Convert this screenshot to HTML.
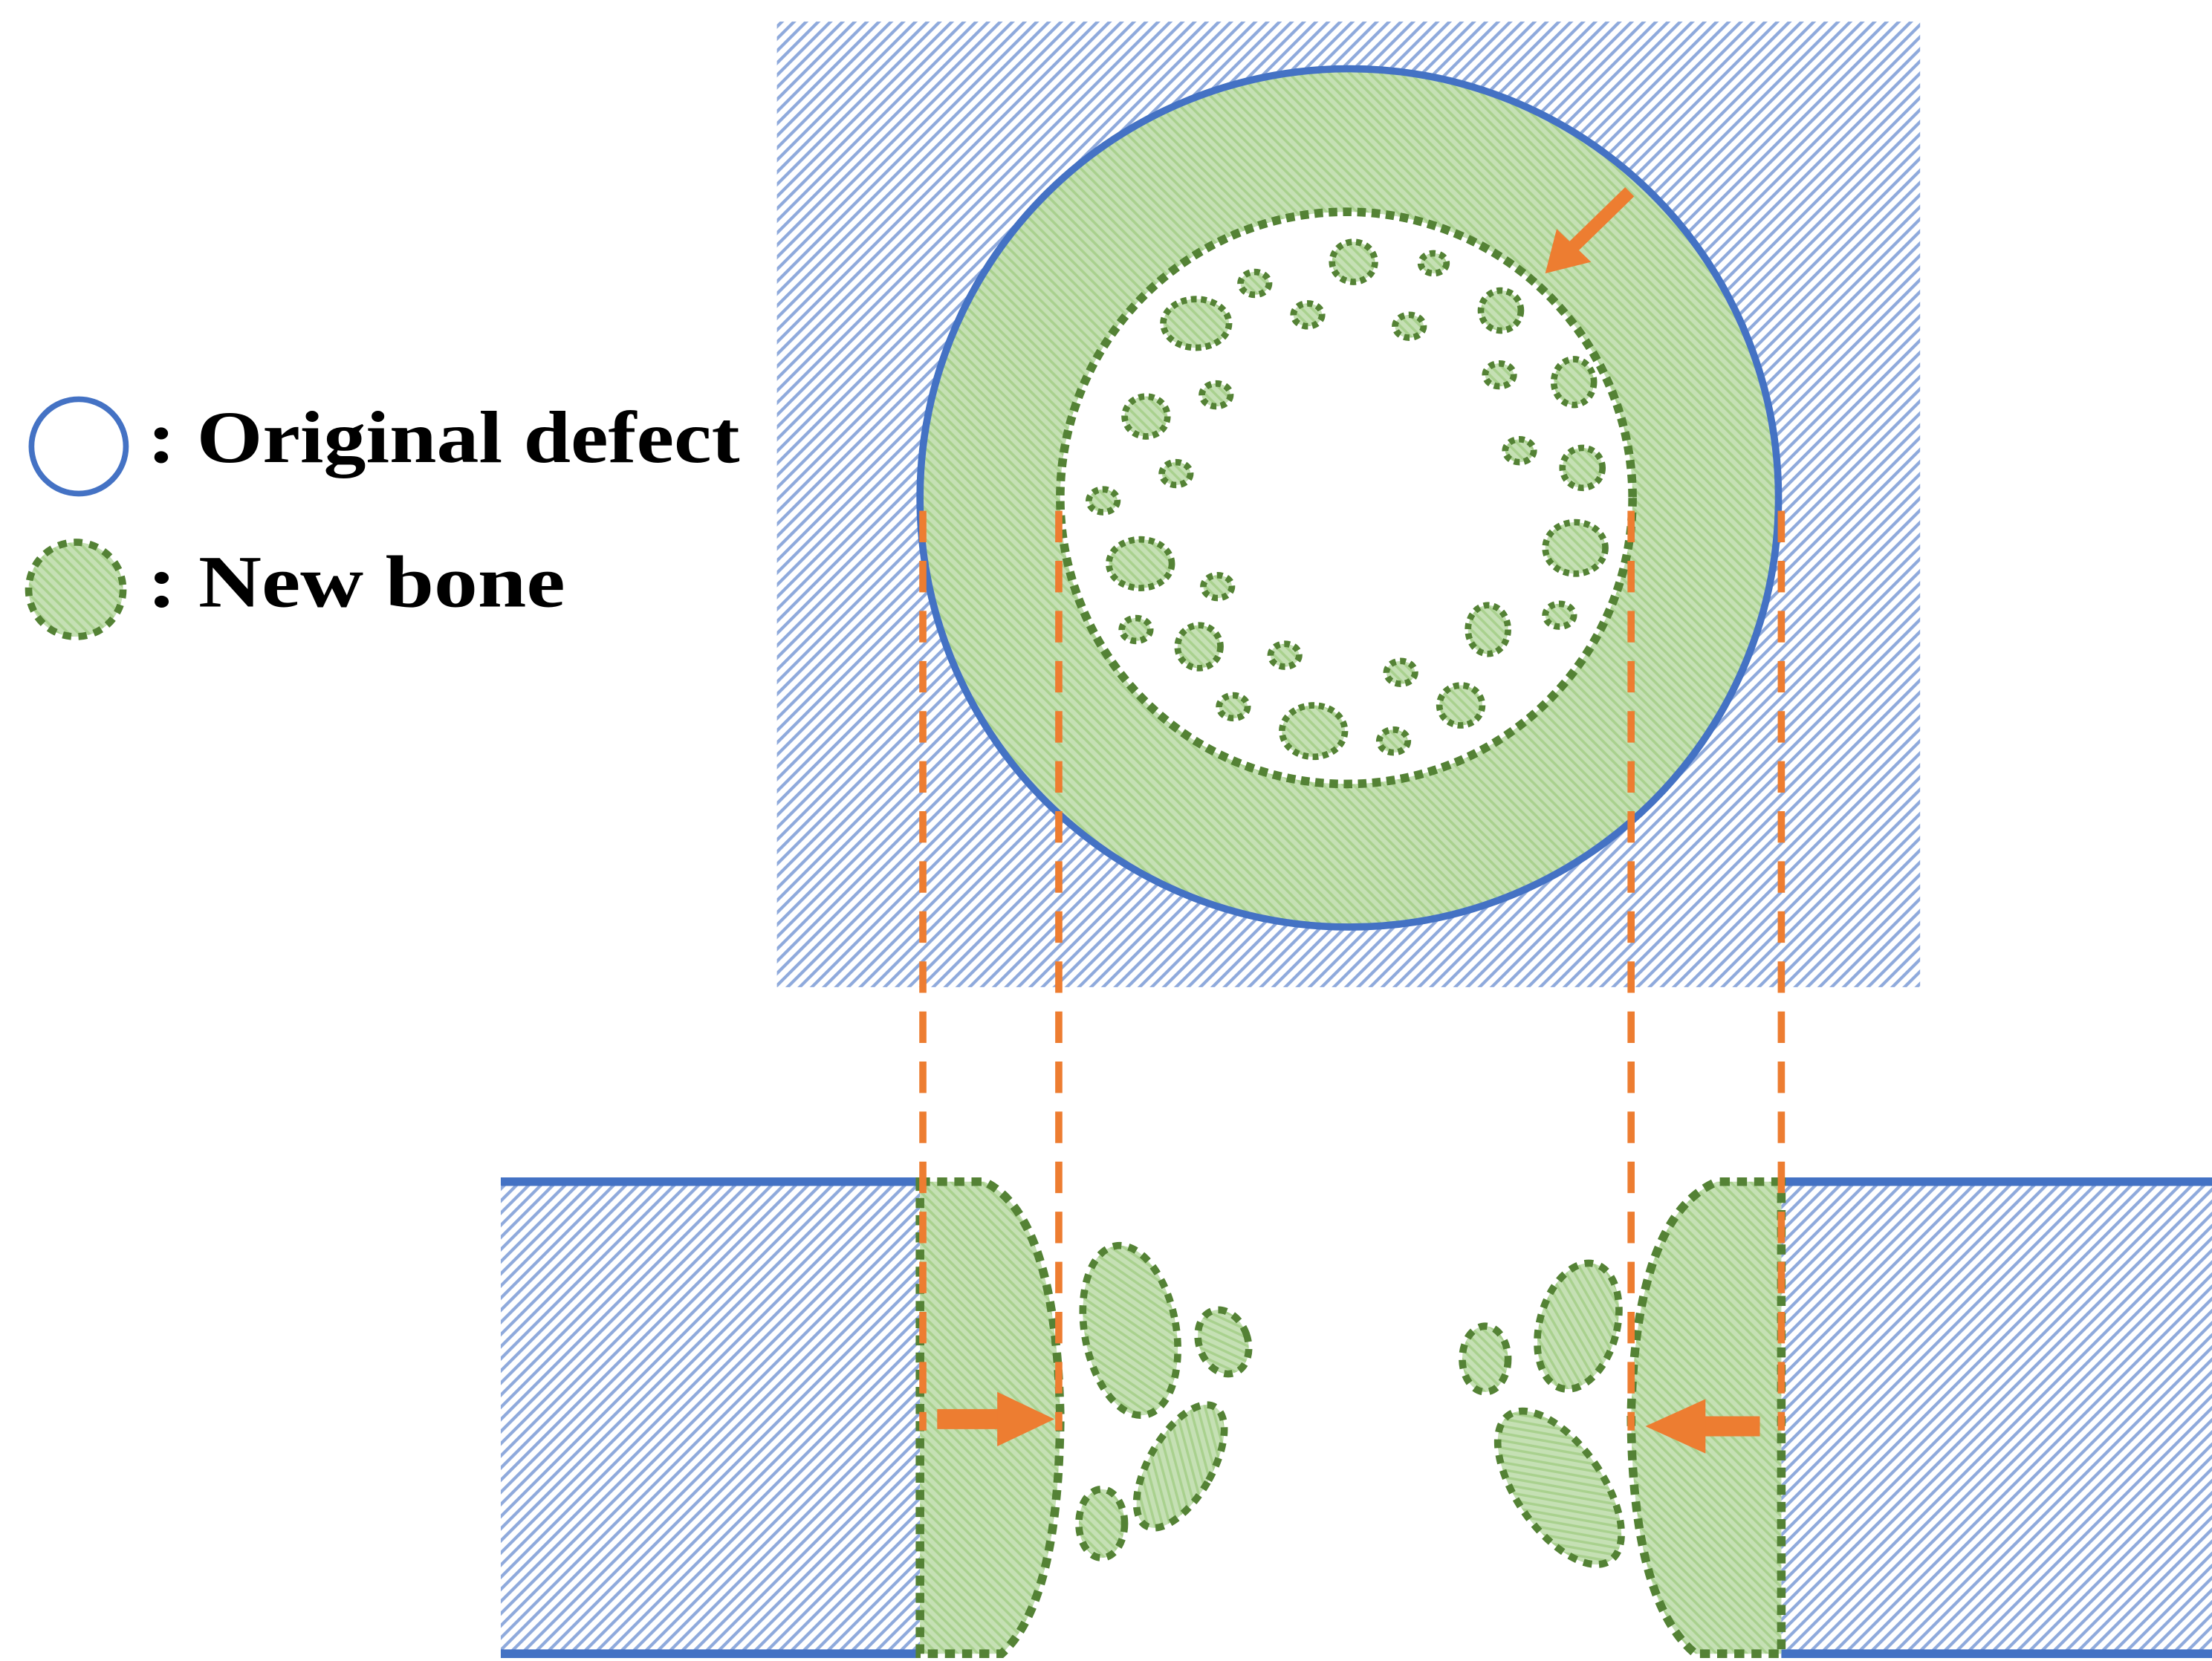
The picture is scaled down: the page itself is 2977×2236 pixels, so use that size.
<!DOCTYPE html>
<html><head><meta charset="utf-8"><style>html,body{margin:0;padding:0;background:#fff}svg{display:block}</style></head>
<body>
<svg width="2977" height="2236" viewBox="0 0 1546 1161" xmlns="http://www.w3.org/2000/svg">
<defs>
<pattern id="bh" width="6" height="6" patternUnits="userSpaceOnUse" patternTransform="rotate(45)">
<rect width="6" height="6" fill="#fff"/><rect x="0" y="0" width="2.2" height="6" fill="#8faadc"/>
</pattern>
<pattern id="gh" width="5" height="5" patternUnits="userSpaceOnUse" patternTransform="rotate(-45)">
<rect width="5" height="5" fill="#c5e0b4"/><rect x="0" y="0" width="1.8" height="5" fill="#a9d18e"/>
</pattern>
</defs>
<rect x="543" y="15" width="799" height="675" fill="url(#bh)"/>
<circle cx="943" cy="348" r="300" fill="url(#gh)"/>
<circle cx="941" cy="348" r="200" fill="#fff" stroke="#548235" stroke-width="6" stroke-dasharray="6 4"/>
<circle cx="943" cy="348" r="300" fill="none" stroke="#4472c4" stroke-width="5"/>
<g fill="url(#gh)" stroke="#548235" stroke-width="4.5" stroke-dasharray="4 3">
<ellipse cx="946" cy="183" rx="15" ry="14"/><ellipse cx="1002" cy="184" rx="9" ry="7"/>
<ellipse cx="877" cy="198" rx="10" ry="8"/><ellipse cx="1049" cy="217" rx="14" ry="14"/>
<ellipse cx="836" cy="226" rx="23" ry="17"/><ellipse cx="914" cy="220" rx="10" ry="8"/>
<ellipse cx="985" cy="228" rx="10" ry="8"/><ellipse cx="1048" cy="262" rx="10" ry="8"/>
<ellipse cx="1100" cy="267" rx="14" ry="16"/><ellipse cx="850" cy="276" rx="10" ry="8"/>
<ellipse cx="801" cy="291" rx="15" ry="14"/><ellipse cx="1062" cy="315" rx="10" ry="8"/>
<ellipse cx="1106" cy="327" rx="14" ry="14"/><ellipse cx="822" cy="331" rx="10" ry="8"/>
<ellipse cx="771" cy="350" rx="10" ry="8"/><ellipse cx="1101" cy="383" rx="21" ry="18"/>
<ellipse cx="797" cy="394" rx="22" ry="17"/><ellipse cx="851" cy="410" rx="10" ry="8"/>
<ellipse cx="1040" cy="440" rx="14" ry="17"/><ellipse cx="1090" cy="430" rx="10" ry="8"/>
<ellipse cx="794" cy="440" rx="10" ry="8"/><ellipse cx="838" cy="452" rx="15" ry="15"/>
<ellipse cx="898" cy="458" rx="10" ry="8"/><ellipse cx="979" cy="470" rx="10" ry="8"/>
<ellipse cx="1021" cy="493" rx="15" ry="14"/><ellipse cx="862" cy="494" rx="10" ry="8"/>
<ellipse cx="918" cy="511" rx="22" ry="18"/><ellipse cx="974" cy="518" rx="10" ry="8"/>
</g>
<line x1="1139" y1="134" x2="1100" y2="172" stroke="#ed7d31" stroke-width="9"/>
<polygon points="1080,191 1088,160 1112,183" fill="#ed7d31"/>
<rect x="350" y="825" width="293" height="332" fill="url(#bh)"/>
<rect x="1245" y="825" width="301" height="332" fill="url(#bh)"/>
<g stroke="#4472c4" stroke-width="6">
<line x1="350" y1="826" x2="643" y2="826"/><line x1="350" y1="1156" x2="643" y2="1156"/>
<line x1="1245" y1="826" x2="1546" y2="826"/><line x1="1245" y1="1156" x2="1546" y2="1156"/>
</g>
<g fill="url(#gh)" stroke="#548235" stroke-width="6" stroke-dasharray="7 5">
<path d="M643,826 L688,826 Q738,850 741,990 Q740,1120 700,1156 L643,1156 Z"/>
<path d="M1245,826 L1200,826 Q1143,850 1140,990 Q1141,1120 1185,1156 L1245,1156 Z"/>
</g>
<g fill="url(#gh)" stroke="#548235" stroke-width="5" stroke-dasharray="6 5">
<ellipse cx="790" cy="930" rx="32" ry="60" transform="rotate(-10 790 930)"/>
<ellipse cx="855" cy="938" rx="17" ry="23" transform="rotate(-20 855 938)"/>
<ellipse cx="825" cy="1025" rx="22" ry="48" transform="rotate(30 825 1025)"/>
<ellipse cx="770" cy="1065" rx="16" ry="24"/>
<ellipse cx="1103" cy="927" rx="27" ry="45" transform="rotate(15 1103 927)"/>
<ellipse cx="1038" cy="950" rx="16" ry="23"/>
<ellipse cx="1090" cy="1040" rx="30" ry="62" transform="rotate(-35 1090 1040)"/>
</g>
<g stroke="#ed7d31" stroke-width="5" stroke-dasharray="22 13">
<line x1="645" y1="357" x2="645" y2="1000"/><line x1="740" y1="357" x2="740" y2="1000"/>
<line x1="1140" y1="357" x2="1140" y2="1000"/><line x1="1245" y1="357" x2="1245" y2="1000"/>
</g>
<rect x="655" y="985" width="45" height="14" fill="#ed7d31"/>
<polygon points="697,973 737,992 697,1011" fill="#ed7d31"/>
<rect x="1188" y="990" width="42" height="14" fill="#ed7d31"/>
<polygon points="1192,978 1150,997 1192,1016" fill="#ed7d31"/>
<circle cx="55" cy="312" r="33" fill="#fff" stroke="#4472c4" stroke-width="4"/>
<circle cx="53" cy="412" r="33" fill="url(#gh)" stroke="#548235" stroke-width="5" stroke-dasharray="6 5"/>
<g font-family="'Liberation Serif', serif" font-weight="bold" font-size="52" fill="#000">
<text x="103" y="323" textLength="414" lengthAdjust="spacingAndGlyphs">: Original defect</text>
<text x="103" y="424" textLength="292" lengthAdjust="spacingAndGlyphs">: New bone</text>
</g>
</svg>
</body></html>
